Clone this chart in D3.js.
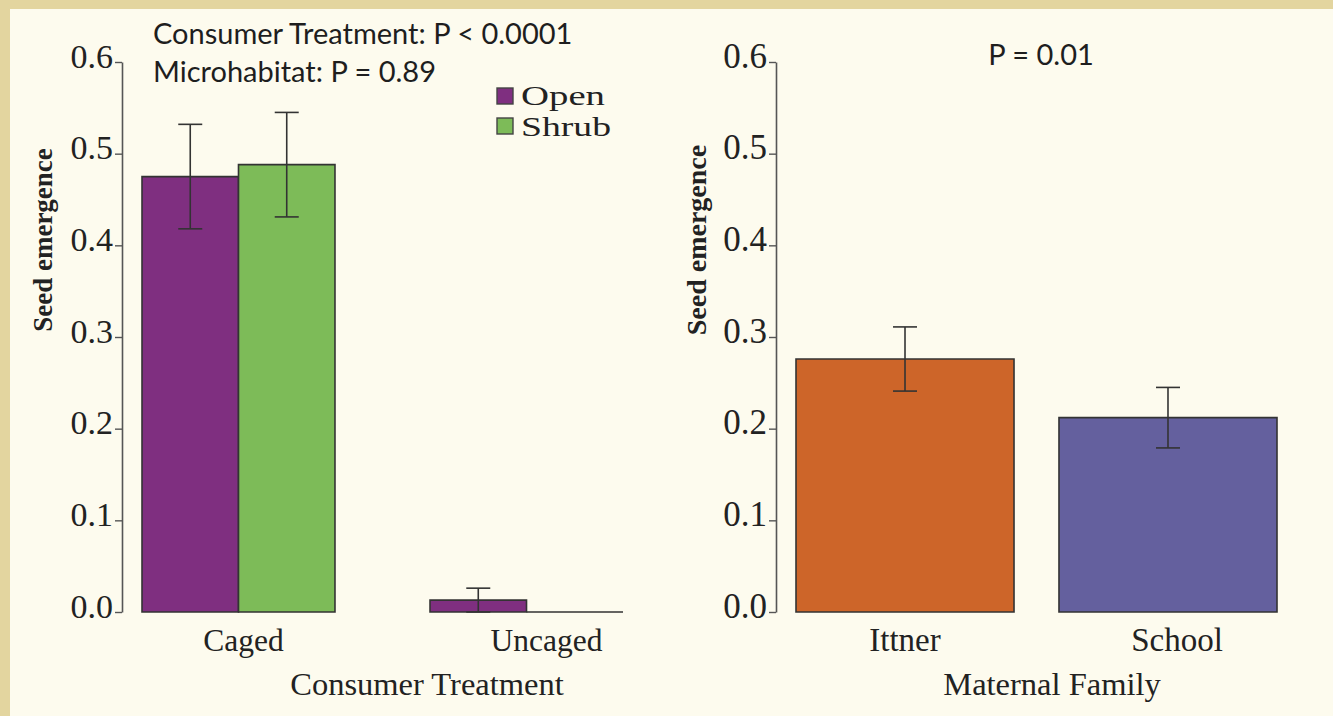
<!DOCTYPE html>
<html>
<head>
<meta charset="utf-8">
<script src="https://cdn.jsdelivr.net/npm/d3@7"></script>
<style>
  html, body { margin: 0; padding: 0; background: #e3d59f; }
  svg { display: block; }
</style>
</head>
<body>
<svg id="chart" width="1333" height="716"></svg>
<script>
// Seed emergence by consumer treatment and microhabitat (left panel)
const treatments = ["Caged", "Uncaged"];
const habitats = ["Open", "Shrub"];
const openMean = [0.475, 0.013];
const openSE = [0.057, 0.013];
const shrubMean = [0.488, 0.0];
const shrubSE = [0.057, 0.0];

// Seed emergence by maternal family (right panel)
const families = ["Ittner", "School"];
const familyMean = [0.276, 0.212];
const familySE = [0.035, 0.033];

const yTicks = [0.0, 0.1, 0.2, 0.3, 0.4, 0.5, 0.6];

const habitatColors = ["#7f2f80", "#7dbb58"];
const familyColors = ["#cd6529", "#64609e"];

const svg = d3.select("#chart");
const serif = "'Liberation Serif', 'Times New Roman', serif";
const sans = "Lato, 'Open Sans', sans-serif";
const ink = "#222";

// cream panel inside the tan frame
svg.append("rect").attr("x", 10).attr("y", 9).attr("width", 1323).attr("height", 707)
  .attr("fill", "#fdfbee");

const y = d3.scaleLinear().domain([0, 0.6]).range([612, 62]);

function drawYAxis(x0, tickFont, titleX, titleFont) {
  const g = svg.append("g").attr("transform", `translate(${x0},0)`);
  g.call(d3.axisLeft(y).tickValues(yTicks).tickFormat(d3.format(".1f")).tickSize(7).tickSizeOuter(0));
  g.select(".domain").attr("stroke", "#555").attr("stroke-width", 1.6);
  g.selectAll(".tick line").attr("stroke", "#555").attr("stroke-width", 1.4);
  g.selectAll(".tick text")
    .attr("font-family", serif).attr("font-size", tickFont).attr("fill", ink)
    .attr("x", -9).attr("dy", "0.15em");
  svg.append("text")
    .attr("transform", `translate(${titleX},240) rotate(-90)`)
    .attr("text-anchor", "middle")
    .attr("font-family", serif).attr("font-size", titleFont).attr("font-weight", "bold")
    .attr("fill", ink)
    .text("Seed emergence");
}

// bar outline drawn as a path so zero-height bars still show their edge
function barPath(x, top, w, bottom) {
  const p = d3.path();
  p.moveTo(x, bottom);
  p.lineTo(x, top);
  p.lineTo(x + w, top);
  p.lineTo(x + w, bottom);
  p.closePath();
  return p.toString();
}

function errorBar(cx, mean, se, capW) {
  const g = svg.append("g").attr("stroke", "#333").attr("stroke-width", 1.6);
  g.append("line").attr("x1", cx).attr("x2", cx).attr("y1", y(mean + se)).attr("y2", y(mean - se));
  g.append("line").attr("x1", cx - capW / 2).attr("x2", cx + capW / 2).attr("y1", y(mean + se)).attr("y2", y(mean + se));
  g.append("line").attr("x1", cx - capW / 2).attr("x2", cx + capW / 2).attr("y1", y(mean - se)).attr("y2", y(mean - se));
}

// ---- Left panel ----
drawYAxis(122, 34, 52, 27);

const x0 = d3.scaleBand().domain(treatments).range([142, 623]).paddingInner(0.33);
const x1 = d3.scaleBand().domain(habitats).range([0, x0.bandwidth()]);

const leftData = [];
treatments.forEach((t, i) => {
  leftData.push({ t, h: habitats[0], mean: openMean[i], se: openSE[i], color: habitatColors[0] });
  leftData.push({ t, h: habitats[1], mean: shrubMean[i], se: shrubSE[i], color: habitatColors[1] });
});

svg.append("g").selectAll("path").data(leftData).join("path")
  .attr("d", d => barPath(x0(d.t) + x1(d.h), y(d.mean), x1.bandwidth(), y(0)))
  .attr("fill", d => d.color)
  .attr("stroke", "#333").attr("stroke-width", 1.6);

leftData.filter(d => d.se > 0).forEach(d => {
  errorBar(x0(d.t) + x1(d.h) + x1.bandwidth() / 2, d.mean, d.se, 24);
});

const leftLabelShift = [5, 20];
svg.append("g").selectAll("text").data(treatments).join("text")
  .attr("x", (d, i) => x0(d) + x0.bandwidth() / 2 + leftLabelShift[i])
  .attr("y", 651)
  .attr("text-anchor", "middle")
  .attr("font-family", serif).attr("font-size", 31.5).attr("fill", ink)
  .text(d => d);

svg.append("text").attr("x", 427).attr("y", 695).attr("text-anchor", "middle")
  .attr("font-family", serif).attr("font-size", 32.5).attr("fill", ink)
  .text("Consumer Treatment");

// legend
const legend = svg.append("g");
const legendTextLen = [84, 90];
habitats.forEach((h, i) => {
  legend.append("rect").attr("x", 497).attr("y", 88 + i * 30).attr("width", 16).attr("height", 16)
    .attr("fill", habitatColors[i]).attr("stroke", "#444").attr("stroke-width", 1.4);
  legend.append("text").attr("x", 521).attr("y", 105 + i * 31)
    .attr("font-family", serif).attr("font-size", 28).attr("fill", ink)
    .attr("textLength", legendTextLen[i]).attr("lengthAdjust", "spacingAndGlyphs")
    .text(h);
});

svg.append("text").attr("x", 153).attr("y", 44)
  .attr("font-family", sans).attr("font-size", 29).attr("fill", "#1e1e1e")
  .text("Consumer Treatment: P < 0.0001");
svg.append("text").attr("x", 153).attr("y", 82)
  .attr("font-family", sans).attr("font-size", 29).attr("fill", "#1e1e1e")
  .text("Microhabitat: P = 0.89");

// ---- Right panel ----
drawYAxis(776, 35, 706, 28);

const xf = d3.scaleBand().domain(families).range([796, 1277]).paddingInner(0.171);

svg.append("g").selectAll("path").data(families).join("path")
  .attr("d", (d, i) => barPath(xf(d), y(familyMean[i]), xf.bandwidth(), y(0)))
  .attr("fill", (d, i) => familyColors[i])
  .attr("stroke", "#333").attr("stroke-width", 1.6);

families.forEach((f, i) => errorBar(xf(f) + xf.bandwidth() / 2, familyMean[i], familySE[i], 24));

const rightLabelShift = [0, 9];
svg.append("g").selectAll("text").data(families).join("text")
  .attr("x", (d, i) => xf(d) + xf.bandwidth() / 2 + rightLabelShift[i])
  .attr("y", 651)
  .attr("text-anchor", "middle")
  .attr("font-family", serif).attr("font-size", 33).attr("fill", ink)
  .text(d => d);

svg.append("text").attr("x", 1052).attr("y", 695).attr("text-anchor", "middle")
  .attr("font-family", serif).attr("font-size", 32.5).attr("fill", ink)
  .text("Maternal Family");

svg.append("text").attr("x", 1041).attr("y", 65).attr("text-anchor", "middle")
  .attr("font-family", sans).attr("font-size", 29).attr("fill", "#1e1e1e")
  .text("P = 0.01");
</script>
</body>
</html>
